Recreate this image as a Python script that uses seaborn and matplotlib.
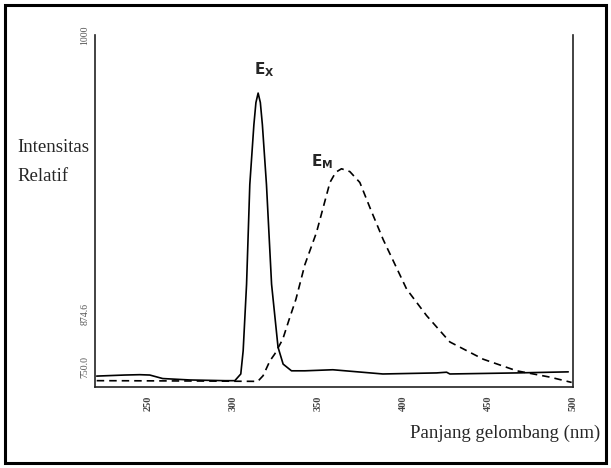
import numpy as np
import pandas as pd
import seaborn as sns
import matplotlib.pyplot as plt
from matplotlib.patches import Rectangle

# excitation spectrum (solid)
ex_nm = [220.0, 236.5, 245.3, 251.2, 258.8, 274.7, 295.3, 301.2, 304.7, 306.1, 308.1,
         310.0, 312.4, 313.6, 314.9, 316.2, 317.4, 319.8, 322.8, 326.6, 329.6, 334.5,
         342.4, 358.8, 388.2, 419.8, 425.7, 427.6, 466.9, 497.2]
ex_int = [31, 34, 35, 34, 24, 20, 18, 18, 37, 103, 292,
          575, 745, 808, 835, 808, 745, 575, 292, 113, 65, 46,
          46, 49, 37, 40, 42, 37, 40, 43]

# emission spectrum (dashed)
em_nm = [220.0, 280.6, 314.7, 317.8, 321.8, 324.7, 329.4, 333.0, 337.1, 342.4, 349.2, 357.1,
         360.5, 363.9, 368.8, 374.7, 381.0, 388.4, 402.2, 413.9, 427.6, 447.2, 466.9, 486.5, 499.2]
em_int = [18, 17, 16, 32, 74, 94, 136, 190, 249, 348, 439, 581,
          610, 620, 612, 581, 505, 419, 278, 203, 128, 79, 46, 28, 13]

x_ticks = [250, 300, 350, 400, 450, 500]
x_labels = ['250', '300', '350', '400', '450', '500']
y_ticks = [57, 207, 1000]
y_labels = ['750.0', '874.6', '1000']

ex = pd.DataFrame({'nm': ex_nm, 'intensitas': ex_int})
em = pd.DataFrame({'nm': em_nm, 'intensitas': em_int})

sns.set_style('white')
plt.rcParams['font.family'] = ['Liberation Serif', 'DejaVu Sans']

fig = plt.figure(figsize=(6.11, 4.68), dpi=100)
ax = fig.add_axes([95 / 611, 1 - 387 / 468, (573 - 95) / 611, (387 - 35) / 468])

sns.lineplot(data=ex, x='nm', y='intensitas', ax=ax, color='black', lw=1.2,
             sort=False, estimator=None)
sns.lineplot(data=em, x='nm', y='intensitas', ax=ax, color='black', lw=1.2,
             sort=False, estimator=None)
ax.lines[1].set_dashes((4.5, 3))

ax.set_xlim(219, 500)
ax.set_ylim(0, 1000)
ax.set_xlabel('')
ax.set_ylabel('')

for s in ['left', 'bottom', 'right']:
    ax.spines[s].set_color('#222222')
    ax.spines[s].set_linewidth(1.2)
ax.spines['top'].set_visible(False)

ax.set_xticks(x_ticks)
ax.set_xticklabels(x_labels, rotation=90, fontsize=7.5, color='#444444', fontweight='bold')
ax.set_xticks(np.arange(220, 500, 10), minor=True)
ax.tick_params(axis='x', which='major', direction='out', length=4, width=0.8, pad=2)
ax.tick_params(axis='x', which='minor', direction='in', length=2, width=0.6)
ax.set_yticks(y_ticks)
ax.set_yticklabels(y_labels, rotation=90, fontsize=7, color='#555555', va='center')
ax.tick_params(axis='y', which='major', direction='out', length=3, width=0.8, pad=1)

# annotations
ax.text(312.5, 887, r'$\mathbf{E_X}$', fontsize=11, family='DejaVu Sans', va='baseline')
ax.text(346.0, 626, r'$\mathbf{E_M}$', fontsize=11, family='DejaVu Sans', va='baseline')

fig.text(17 / 611, 1 - 152 / 468, 'Intensitas', fontsize=13.5, va='baseline')
fig.text(17 / 611, 1 - 181 / 468, 'Relatif', fontsize=13.5, va='baseline')
fig.text(410 / 611, 1 - 438 / 468, 'Panjang gelombang (nm)', fontsize=13.5, va='baseline')

# outer frame
fig.patches.append(Rectangle((5 / 611, 5 / 468), 601 / 611, 458 / 468, transform=fig.transFigure,
                             fill=False, edgecolor='black', linewidth=2.2))

fig.savefig('out.png', dpi=100)
